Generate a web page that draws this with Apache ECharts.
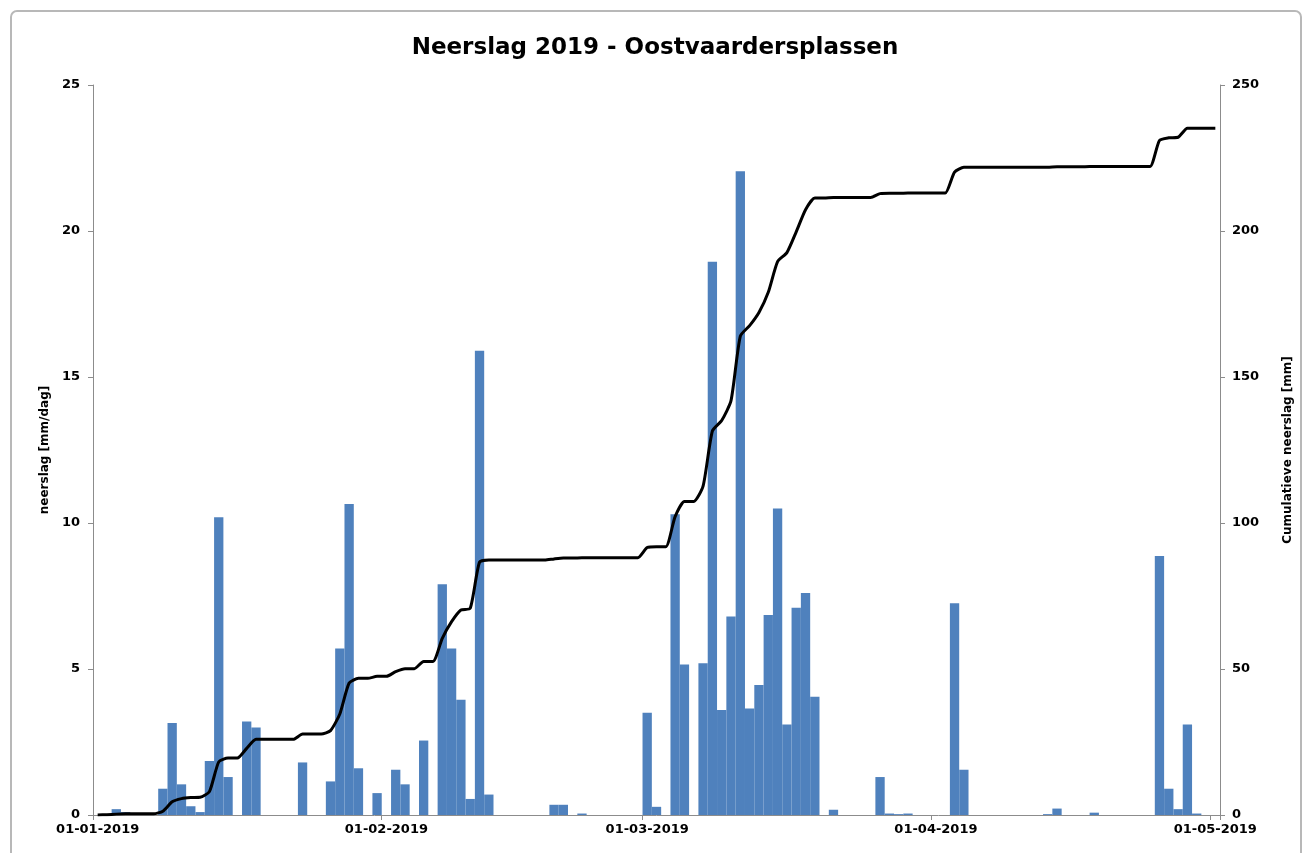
<!DOCTYPE html>
<html>
<head>
<meta charset="utf-8">
<script src="https://cdn.jsdelivr.net/npm/echarts@6/dist/echarts.min.js"></script>
<style>
html,body{margin:0;padding:0;background:#fff;}
#chart{width:1310px;height:853px;}
</style>
</head>
<body>
<div id="chart"></div>
<script>
// Daily dates 01-01-2019 .. 01-05-2019
const categories = [
'01-01-2019','02-01-2019','03-01-2019','04-01-2019','05-01-2019','06-01-2019','07-01-2019','08-01-2019','09-01-2019','10-01-2019',
'11-01-2019','12-01-2019','13-01-2019','14-01-2019','15-01-2019','16-01-2019','17-01-2019','18-01-2019','19-01-2019','20-01-2019',
'21-01-2019','22-01-2019','23-01-2019','24-01-2019','25-01-2019','26-01-2019','27-01-2019','28-01-2019','29-01-2019','30-01-2019','31-01-2019',
'01-02-2019','02-02-2019','03-02-2019','04-02-2019','05-02-2019','06-02-2019','07-02-2019','08-02-2019','09-02-2019','10-02-2019',
'11-02-2019','12-02-2019','13-02-2019','14-02-2019','15-02-2019','16-02-2019','17-02-2019','18-02-2019','19-02-2019','20-02-2019',
'21-02-2019','22-02-2019','23-02-2019','24-02-2019','25-02-2019','26-02-2019','27-02-2019','28-02-2019',
'01-03-2019','02-03-2019','03-03-2019','04-03-2019','05-03-2019','06-03-2019','07-03-2019','08-03-2019','09-03-2019','10-03-2019',
'11-03-2019','12-03-2019','13-03-2019','14-03-2019','15-03-2019','16-03-2019','17-03-2019','18-03-2019','19-03-2019','20-03-2019',
'21-03-2019','22-03-2019','23-03-2019','24-03-2019','25-03-2019','26-03-2019','27-03-2019','28-03-2019','29-03-2019','30-03-2019','31-03-2019',
'01-04-2019','02-04-2019','03-04-2019','04-04-2019','05-04-2019','06-04-2019','07-04-2019','08-04-2019','09-04-2019','10-04-2019',
'11-04-2019','12-04-2019','13-04-2019','14-04-2019','15-04-2019','16-04-2019','17-04-2019','18-04-2019','19-04-2019','20-04-2019',
'21-04-2019','22-04-2019','23-04-2019','24-04-2019','25-04-2019','26-04-2019','27-04-2019','28-04-2019','29-04-2019','30-04-2019',
'01-05-2019'
];

// Tick labels shown on the date axis
const tickLabels = ['01-01-2019','01-02-2019','01-03-2019','01-04-2019','01-05-2019'];

// Daily precipitation [mm/dag]
const rainJan = [0,0,0.2,0.1,0,0,0,0.9,3.15,1.05,0.3,0.1,1.85,10.2,1.3,0,3.2,3.0,0,0,0,0,1.8,0,0,1.15,5.7,10.65,1.6,0,0.75];
const rainFeb = [0,1.55,1.05,0,2.55,0,7.9,5.7,3.95,0.55,15.9,0.7,0,0,0,0,0,0,0.35,0.35,0,0.05,0,0,0,0,0,0];
const rainMar = [3.5,0.28,0,10.3,5.15,0,5.2,18.95,3.6,6.8,22.05,3.65,4.45,6.85,10.5,3.1,7.1,7.6,4.05,0,0.18,0,0,0,0,1.3,0.05,0.03,0.05,0,0];
const rainApr = [0,0,7.25,1.55,0,0,0,0,0,0,0,0,0.03,0.22,0,0,0,0.08,0,0,0,0,0,0,8.87,0.9,0.2,3.1,0.05,0];
const rainMay = [0];

// Cumulative precipitation [mm]
const cumJan = [0,0.1,0.3,0.4,0.4,0.4,0.4,1.3,4.5,5.6,6.0,6.1,8.0,18.2,19.5,19.5,22.8,25.9,25.9,25.9,25.9,25.9,27.7,27.7,27.7,28.9,34.6,45.2,46.8,46.8,47.5];
const cumFeb = [47.5,49.1,50.1,50.1,52.6,52.6,60.5,66.2,70.2,70.8,86.6,87.3,87.3,87.3,87.3,87.3,87.3,87.3,87.7,88.0,88.0,88.1,88.1,88.1,88.1,88.1,88.1,88.1];
const cumMar = [91.6,91.9,91.9,102.2,107.4,107.4,112.6,131.5,135.1,141.9,164.0,167.6,172.1,179.0,189.5,192.6,199.7,207.3,211.3,211.3,211.5,211.5,211.5,211.5,211.5,212.8,212.9,212.9,213.0,213.0,213.0];
const cumApr = [213.0,213.0,220.2,221.8,221.8,221.8,221.8,221.8,221.8,221.8,221.8,221.8,221.8,222.0,222.0,222.0,222.0,222.1,222.1,222.1,222.1,222.1,222.1,222.1,231.0,231.9,232.1,235.2,235.2,235.2];
const cumMay = [235.2];

const rain = [].concat(rainJan, rainFeb, rainMar, rainApr, rainMay);
const cumulative = [].concat(cumJan, cumFeb, cumMar, cumApr, cumMay);

const chart = echarts.init(document.getElementById('chart'), null, {renderer: 'canvas'});
const FONT = '"DejaVu Sans", "Liberation Sans", Arial, sans-serif';
const showTick = function (idx) { return tickLabels.indexOf(categories[idx]) >= 0; };

chart.setOption({
  animation: false,
  backgroundColor: '#ffffff',
  title: {
    text: 'Neerslag 2019 - Oostvaardersplassen',
    left: 'center',
    top: 32,
    textStyle: {fontFamily: FONT, fontSize: 23, fontWeight: 'bold', color: '#000'}
  },
  graphic: [{
    type: 'rect',
    shape: {x: 11, y: 11, width: 1290, height: 870, r: 6},
    style: {fill: 'none', stroke: '#b8b8b8', lineWidth: 2},
    silent: true
  }],
  grid: {left: 93, right: 90, top: 85, bottom: 38, containLabel: false},
  xAxis: {
    type: 'category',
    data: categories,
    boundaryGap: true,
    axisLine: {show: true, lineStyle: {color: '#8c8c8c', width: 1}},
    axisTick: {show: true, interval: showTick, length: 5, lineStyle: {color: '#8c8c8c'}},
    axisLabel: {
      interval: showTick,
      margin: 8,
      fontFamily: FONT, fontSize: 13, fontWeight: 'bold', color: '#000'
    },
    splitLine: {show: false}
  },
  yAxis: [{
    type: 'value',
    position: 'left',
    min: 0, max: 25, interval: 5,
    name: 'neerslag [mm/dag]',
    nameLocation: 'middle',
    nameRotate: 90,
    nameGap: 42,
    nameTextStyle: {fontFamily: FONT, fontSize: 12, fontWeight: 'bold', color: '#000'},
    axisLine: {show: true, lineStyle: {color: '#8c8c8c', width: 1}},
    axisTick: {show: true, length: 5, lineStyle: {color: '#8c8c8c'}},
    axisLabel: {margin: 13, fontFamily: FONT, fontSize: 13, fontWeight: 'bold', color: '#000'},
    splitLine: {show: false}
  }, {
    type: 'value',
    position: 'right',
    min: 0, max: 250, interval: 50,
    name: 'Cumulatieve neerslag [mm]',
    nameLocation: 'middle',
    nameRotate: 90,
    nameGap: 62,
    nameTextStyle: {fontFamily: FONT, fontSize: 12, fontWeight: 'bold', color: '#000'},
    axisLine: {show: true, lineStyle: {color: '#8c8c8c', width: 1}},
    axisTick: {show: true, length: 5, lineStyle: {color: '#8c8c8c'}},
    axisLabel: {margin: 12, fontFamily: FONT, fontSize: 13, fontWeight: 'bold', color: '#000'},
    splitLine: {show: false}
  }],
  series: [{
    name: 'neerslag',
    type: 'bar',
    yAxisIndex: 0,
    data: rain,
    barCategoryGap: '0%',
    itemStyle: {color: '#4f81bd'}
  }, {
    name: 'cumulatief',
    type: 'line',
    yAxisIndex: 1,
    data: cumulative,
    symbol: 'none',
    smooth: 0.2,
    lineStyle: {color: '#000000', width: 3},
    z: 5
  }]
});
</script>
</body>
</html>
